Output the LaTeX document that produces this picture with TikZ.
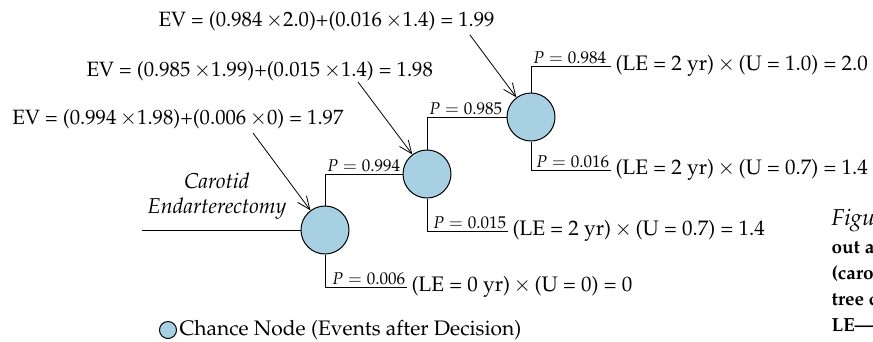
\documentclass[tikz,border=0pt]{standalone}
\usepackage[T1]{fontenc}
\usepackage{mathpazo}
\usepackage{tikz}
\usetikzlibrary{arrows.meta}
\definecolor{ChanceNodeBlue}{RGB}{168,208,227}

\begin{document}
\begin{tikzpicture}[x=1pt,y=-1pt,line width=1pt,
  chance/.style={circle,draw,fill=ChanceNodeBlue,minimum size=48pt,inner sep=0pt},
  prob/.style={inner sep=1.5pt,font=\fontsize{17}{19}\selectfont},
  outc/.style={anchor=west,inner sep=4pt,font=\fontsize{21}{24}\selectfont},
  ev/.style={anchor=west,inner sep=0pt,font=\fontsize{20.7}{24}\selectfont},
  evarrow/.style={-{Straight Barb[length=13pt,width=11pt]},line width=0.8pt},
  capt/.style={anchor=base west,inner sep=0pt,font=\fontsize{19}{22}\selectfont\bfseries}]
\useasboundingbox (0,0) rectangle (873,341);
\clip (0,0) rectangle (873,341);
% chance nodes
\node[chance] (c1) at (325,230) {};
\node[chance] (c2) at (427,174) {};
\node[chance] (c3) at (531,117) {};
% outcomes
\node[outc] (o1) at (407,287) {(LE = 0 yr)\,$\times$\,(U = 0) = 0};
\node[outc] (o2) at (508,231) {(LE = 2 yr)\,$\times$\,(U = 0.7) = 1.4};
\node[outc] (o3) at (611,170) {(LE = 2 yr)\,$\times$\,(U = 0.7) = 1.4};
\node[outc] (o4) at (611,66) {(LE = 2 yr)\,$\times$\,(U = 1.0) = 2.0};
% decision branch
\coordinate (start) at (142,230);
\draw (start) -- (c1.west);
\node[font=\fontsize{21.5}{25}\selectfont\itshape,align=center] (cea) at (217,196) {Carotid\\Endarterectomy};
% branches
\draw (c1.north) |- node[prob,pos=0.5,anchor=south west] {$P = 0.994$} (c2.west);
\draw (c1.south) |- node[prob,pos=1,anchor=south east] {$P = 0.006$} (o1.west);
\draw (c2.north) |- node[prob,pos=0.5,anchor=south west] {$P = 0.985$} (c3.west);
\draw (c2.south) |- node[prob,pos=1,anchor=south east] {$P = 0.015$} (o2.west);
\draw (c3.north) |- node[prob,pos=0.5,anchor=south west] {$P = 0.984$} (o4.west);
\draw (c3.south) |- node[prob,pos=1,anchor=south east] {$P = 0.016$} (o3.west);
% expected values
\node[ev] (ev1) at (158,21) {EV = (0.984\,$\times$2.0)+(0.016\,$\times$1.4) = 1.99};
\node[ev] (ev2) at (86,71) {EV = (0.985\,$\times$1.99)+(0.015\,$\times$1.4) = 1.98};
\node[ev] (ev3) at (12,119) {EV = (0.994\,$\times$1.98)+(0.006\,$\times$0) = 1.97};
\coordinate (a1) at (470,35);
\coordinate (a2) at (358,82);
\coordinate (a3) at (253,133);
\foreach \a/\c in {a1/c3,a2/c2,a3/c1} {
  \draw[evarrow] (\a) -- (\c);
}
% legend
\node[chance,minimum size=17pt] (key) at (168,330) {};
\node[anchor=west,inner sep=2pt,font=\fontsize{21}{24}\selectfont] (keytext) at (key.east) {Chance Node (Events after Decision)};
% caption (cut off at the edge)
\node[anchor=base west,inner sep=0pt,font=\fontsize{23}{26}\selectfont\itshape] (fig) at (831,225) {Figu};
\foreach \t [count=\i] in {{out a},{(caro},{tree c},{LE---}} {
  \node[capt] (cap\i) at (831,227+26*\i) {\t};
}
\end{tikzpicture}
\end{document}
